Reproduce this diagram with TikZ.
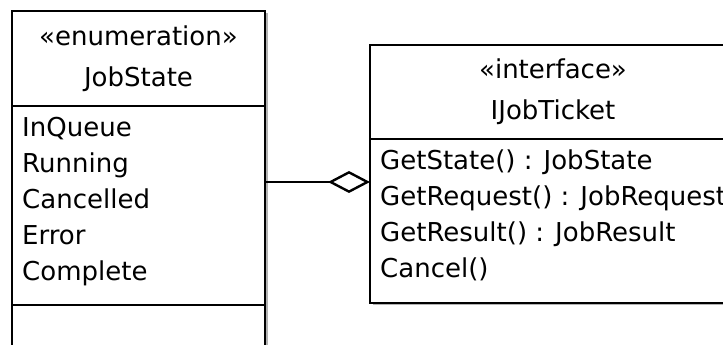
\documentclass[tikz,border=0pt]{standalone}
\usepackage{fontspec}
\setmainfont{DejaVu Sans}
\usetikzlibrary{positioning,arrows.meta,shadows}
\tikzset{
    uml-box/.style = {draw=black, fill=white, line width=2.4pt, rectangle, inner sep=0pt, outer sep=0pt,
        drop shadow={shadow xshift=2.5pt, shadow yshift=-2.5pt, fill=black!30, opacity=1}},
    uml-title/.style = {font=\fontsize{26}{41}\selectfont, align=center},
    uml-members/.style = {font=\fontsize{26}{36}\selectfont, align=left, inner sep=0pt, anchor=base west},
    aggregation/.style = {line width=2.4pt, -{Diamond[open, sharp, length=42pt, width=22pt]}},
}

\begin{document}
\begin{tikzpicture}[x=1pt, y=1pt]
\useasboundingbox (0,0) rectangle (723,345);
\clip (0,0) rectangle (723,345);
\fill[white] (0,0) rectangle (723,345);
% JobState enumeration
\node[uml-box, uml-title, minimum width=253pt, minimum height=95pt, anchor=north west] (stateHead) at (12,334) {«enumeration»\\JobState};
\node[uml-box, minimum width=253pt, minimum height=199pt, below=0pt of stateHead] (stateAttrs) {};
\node[uml-box, minimum width=253pt, minimum height=95pt, below=0pt of stateAttrs] (stateOps) {};
% base of a multi-line node is its last line
\node[uml-members] (stateList) at ([xshift=10pt, yshift=-175pt]stateAttrs.north west) {InQueue\\Running\\Cancelled\\Error\\Complete};
% IJobTicket interface
\node[uml-box, uml-title, minimum width=366pt, minimum height=94pt, anchor=north west] (ticketHead) at (370,300) {«interface»\\IJobTicket};
\node[uml-box, minimum width=366pt, minimum height=164pt, below=0pt of ticketHead] (ticketMethods) {};
\node[uml-members] (ticketList) at ([xshift=10pt, yshift=-139pt]ticketMethods.north west) {GetState() : JobState\\GetRequest() : JobRequest\\GetResult() : JobResult\\Cancel()};
% aggregation
\coordinate (ticketJoint) at ([yshift=-43pt]ticketMethods.north west);
\draw[aggregation] (stateAttrs.east |- ticketJoint) -- (ticketJoint);
\end{tikzpicture}
\end{document}
